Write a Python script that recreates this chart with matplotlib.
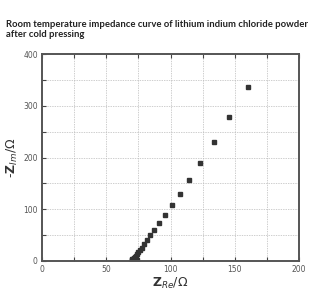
import numpy as np
import matplotlib.pyplot as plt
from matplotlib.ticker import MultipleLocator, FuncFormatter

# impedance data
z_re = [160.1, 145.8, 133.6, 123.2, 114.6, 107.4, 100.8, 95.7, 91.3, 87.3,
        84.2, 81.5, 79.4, 77.6, 76.1, 74.9, 73.8, 72.9, 72.1, 71.4, 70.8,
        70.4, 70.2, 70.3, 70.7, 71.3, 72.0, 72.9, 73.8]
z_im = [336.8, 277.7, 229.4, 188.8, 157.3, 129.5, 107.6, 88.5, 72.8, 59.9,
        49.3, 40.6, 32.3, 26.0, 21.0, 17.0, 13.5, 10.5, 8.0, 6.0, 4.5,
        3.2, 2.0, 1.0, 0.5, 0.2, 0.3, 0.5, 1.0]

title = 'Room temperature impedance curve of lithium indium chloride powder\nafter cold pressing'

fig = plt.figure(figsize=(3.09, 3.01), dpi=100)
ax = fig.add_axes([42/309, 1 - 261/301, 257/309, 207/301])

ax.plot(z_re, z_im, ls='none', marker='s', ms=3.5, color='#333333', mec='#333333')

ax.set_xlim(0, 200)
ax.set_ylim(0, 400)
ax.xaxis.set_major_locator(MultipleLocator(25))
ax.yaxis.set_major_locator(MultipleLocator(50))
ax.xaxis.set_major_formatter(FuncFormatter(lambda v, p: '%d' % v if v % 50 == 0 else ''))
ax.yaxis.set_major_formatter(FuncFormatter(lambda v, p: '%d' % v if v % 100 == 0 else ''))
ax.tick_params(direction='in', length=3, width=0.8, color='#444444',
               labelsize=5.5, labelcolor='#555555', top=True, right=False, pad=3)
ax.grid(True, ls=(0, (2, 1.5)), lw=0.5, color='#bbbbbb')
for s in ax.spines.values():
    s.set_linewidth(1.4)
    s.set_color('#555555')

ax.set_xlabel(r'$\mathbf{Z}_{Re}/\Omega$', fontsize=9, color='#333333', labelpad=1)
ax.set_ylabel(r'-$\mathbf{Z}_{Im}/\Omega$', fontsize=9, color='#333333', labelpad=2)

fig.text(6/309, 1 - 20/301, title, fontsize=6.85, fontweight='bold', family='Lato',
         color='#222222', ha='left', va='top', linespacing=1.15)

fig.savefig('out.png', dpi=100)
